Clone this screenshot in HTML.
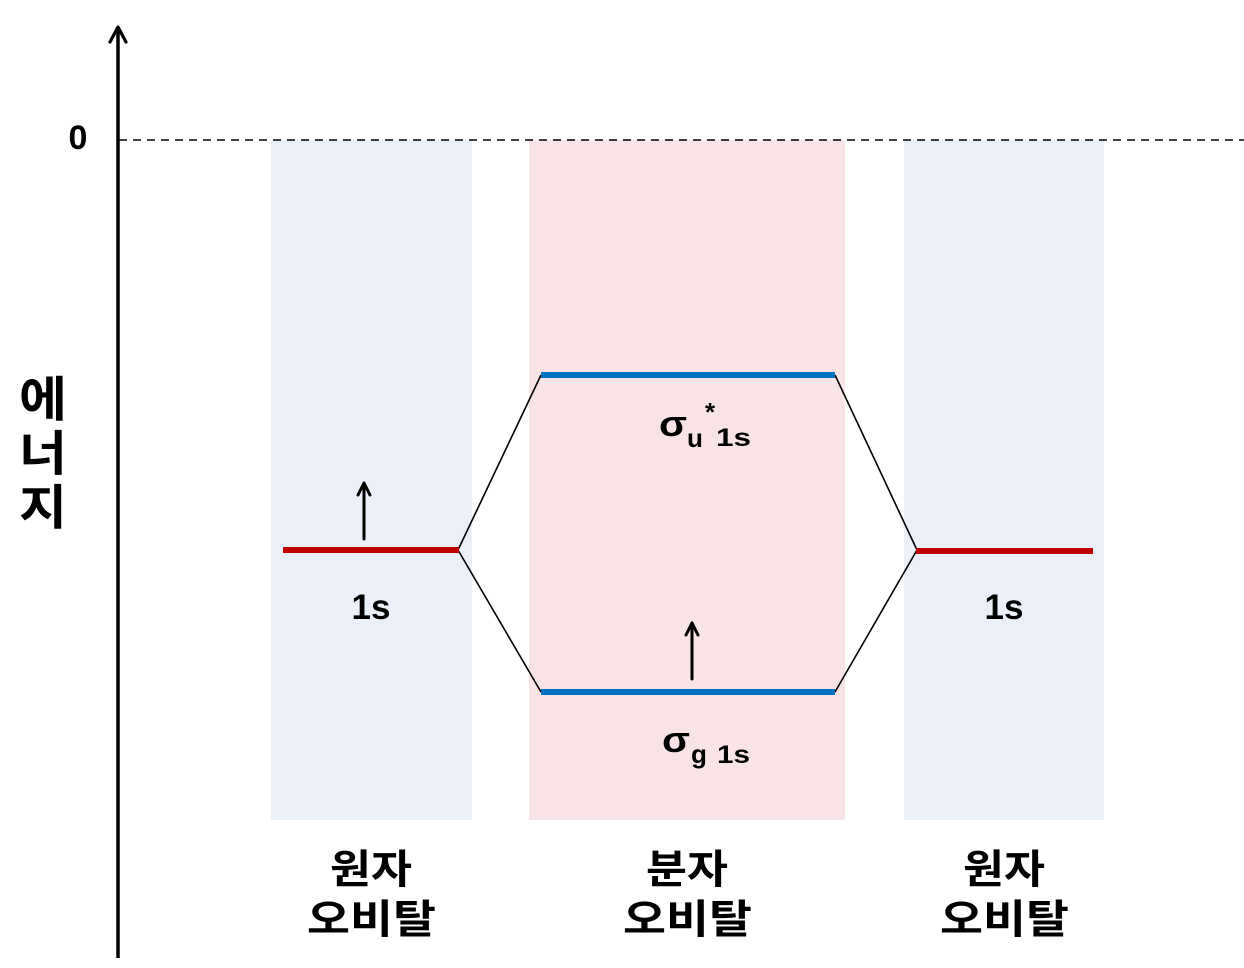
<!DOCTYPE html>
<html>
<head>
<meta charset="utf-8">
<style>
  html,body{margin:0;padding:0;background:#fff;}
  svg{display:block;}
  text{font-family:"Liberation Sans","Noto Sans CJK KR",sans-serif;font-weight:700;fill:#000;}
  .kr{font-family:"Noto Sans CJK KR","Liberation Sans",sans-serif;font-weight:700;}
</style>
</head>
<body>
<svg width="1244" height="968" viewBox="0 0 1244 968" xmlns="http://www.w3.org/2000/svg">
  <!-- background columns -->
  <rect x="271" y="140" width="201" height="680" fill="#EBF0F8"/>
  <rect x="529" y="140" width="316" height="680" fill="#F8E4E6"/>
  <rect x="904" y="140" width="200" height="680" fill="#EBF0F8"/>

  <!-- zero dashed line -->
  <line x1="119" y1="140" x2="1244" y2="140" stroke="#000" stroke-width="1.5" stroke-dasharray="8 6"/>

  <!-- energy axis -->
  <line x1="118" y1="28" x2="118" y2="958" stroke="#000" stroke-width="3.5"/>
  <polyline points="110,42 118,27 126,42" fill="none" stroke="#000" stroke-width="3.2" stroke-linecap="round" stroke-linejoin="round"/>

  <!-- connectors -->
  <g stroke="#000" stroke-width="1.6" fill="none">
    <line x1="458" y1="550" x2="541" y2="375"/>
    <line x1="458" y1="550" x2="541" y2="692"/>
    <line x1="835" y1="375" x2="917" y2="550"/>
    <line x1="835" y1="692" x2="917" y2="550"/>
  </g>

  <!-- orbital levels -->
  <line x1="283" y1="550" x2="459" y2="550" stroke="#C00000" stroke-width="6"/>
  <line x1="916" y1="551" x2="1093" y2="551" stroke="#C00000" stroke-width="6"/>
  <line x1="541" y1="375" x2="835" y2="375" stroke="#0070C0" stroke-width="6"/>
  <line x1="541" y1="692" x2="835" y2="692" stroke="#0070C0" stroke-width="6"/>

  <!-- electron arrows -->
  <g stroke="#000" stroke-width="3" fill="none" stroke-linecap="round" stroke-linejoin="round">
    <line x1="364" y1="539" x2="364" y2="484"/>
    <polyline points="358,495 364,483 370,495"/>
    <line x1="692" y1="679" x2="692" y2="624"/>
    <polyline points="686,635 692,623 698,635"/>
  </g>

  <!-- labels -->
  <text x="78" y="149" font-size="34" text-anchor="middle">0</text>

  <text class="kr" x="19" y="416" font-size="48" textLength="48" lengthAdjust="spacingAndGlyphs">에</text>
  <text class="kr" x="19" y="470" font-size="48" textLength="48" lengthAdjust="spacingAndGlyphs">너</text>
  <text class="kr" x="19" y="524" font-size="48" textLength="48" lengthAdjust="spacingAndGlyphs">지</text>

  <text x="371" y="619" font-size="35" text-anchor="middle">1s</text>
  <text x="1004" y="619" font-size="35" text-anchor="middle">1s</text>

  <!-- sigma u* 1s -->
  <text x="659" y="436" font-size="36" textLength="28" lengthAdjust="spacingAndGlyphs">σ</text>
  <text x="687" y="447" font-size="26">u</text>
  <text x="705" y="421" font-size="26">*</text>
  <text x="716" y="446" font-size="25" textLength="35" lengthAdjust="spacingAndGlyphs">1s</text>

  <!-- sigma g 1s -->
  <text x="662" y="752" font-size="36" textLength="28" lengthAdjust="spacingAndGlyphs">σ</text>
  <text x="691" y="763" font-size="26">g</text>
  <text x="717" y="763" font-size="25" textLength="33" lengthAdjust="spacingAndGlyphs">1s</text>

  <!-- bottom labels -->
  <text class="kr" x="330" y="883" font-size="40" textLength="82" lengthAdjust="spacingAndGlyphs">원자</text>
  <text class="kr" x="307" y="933" font-size="40" textLength="129" lengthAdjust="spacingAndGlyphs">오비탈</text>
  <text class="kr" x="646" y="883" font-size="40" textLength="82" lengthAdjust="spacingAndGlyphs">분자</text>
  <text class="kr" x="623" y="933" font-size="40" textLength="129" lengthAdjust="spacingAndGlyphs">오비탈</text>
  <text class="kr" x="963" y="883" font-size="40" textLength="82" lengthAdjust="spacingAndGlyphs">원자</text>
  <text class="kr" x="940" y="933" font-size="40" textLength="129" lengthAdjust="spacingAndGlyphs">오비탈</text>
</svg>
</body>
</html>
